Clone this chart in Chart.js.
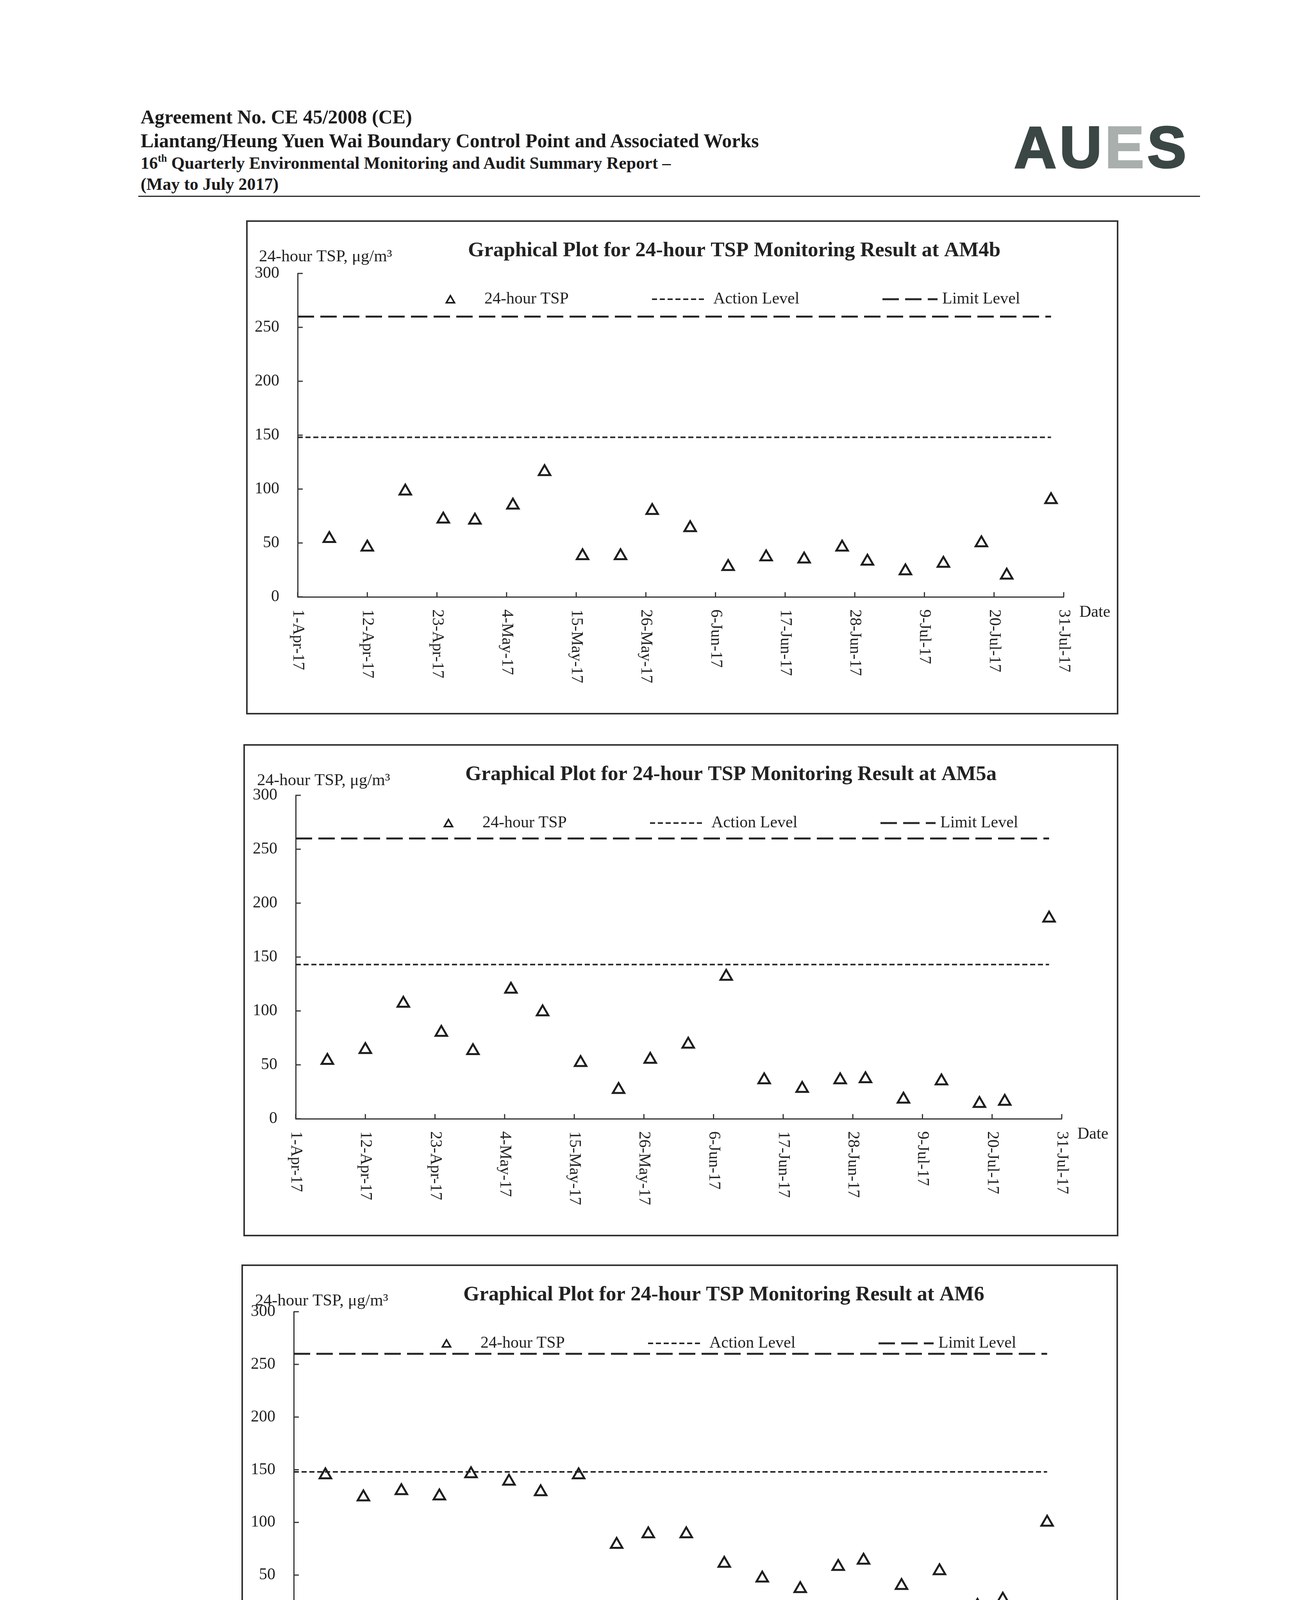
<!DOCTYPE html>
<html>
<head>
<meta charset="utf-8">
<script src="https://cdn.jsdelivr.net/npm/chart.js@4.4.0/dist/chart.umd.min.js"></script>
<style>
body { margin: 0; width: 3310px; height: 4680px; background: #fff; position: relative; overflow: hidden;
       font-family: "Liberation Serif", "Times New Roman", serif; color: #1c1c1c; }
.hd { position: absolute; left: 360px; font-weight: bold; white-space: nowrap; line-height: 1; }
.hd sup { font-size: 0.6em; position: relative; top: -0.15em; vertical-align: top; }
.logo { position: absolute; left: 2596px; top: 302px; font-family: "Liberation Sans", Arial, sans-serif;
        font-weight: bold; font-size: 150px; line-height: 1; letter-spacing: 8px; color: #3b4745;
        -webkit-text-stroke: 4px #3b4745; }
.logo span { color: #a8afad; -webkit-text-stroke: 4px #a8afad; }
.rule { position: absolute; left: 354px; width: 2718px; height: 3px; background: #2a2a2a; }
.foot { position: absolute; left: 430px; top: 4511px; font-size: 38px; line-height: 1; white-space: nowrap; }
.box { position: absolute; border: 4px solid #333; box-sizing: border-box; }
canvas.plot { position: absolute; }
</style>
</head>
<body>
<div class="hd" style="top:274px; font-size:50px;">Agreement No. CE 45/2008 (CE)</div>
<div class="hd" style="top:335px; font-size:50px;">Liantang/Heung Yuen Wai Boundary Control Point and Associated Works</div>
<div class="hd" style="top:396px; font-size:44px;">16<sup>th</sup> Quarterly Environmental Monitoring and Audit Summary Report –</div>
<div class="hd" style="top:450px; font-size:44px;">(May to July 2017)</div>
<div class="logo">AU<span>E</span>S</div>
<div class="rule" style="top:501px;"></div>

<div class="box" id="box1"></div>
<canvas class="plot" id="chartAM4b"></canvas>
<div class="box" id="box2"></div>
<canvas class="plot" id="chartAM5a"></canvas>
<div class="box" id="box3"></div>
<canvas class="plot" id="chartAM6"></canvas>

<div class="rule" style="top:4484px;"></div>
<div class="foot">Z:\Jobs\2013\TCS00694\600\EM&amp;A Report\Quarterly EM&amp;A Report\16th Quarter\R1315v2.docx</div>

<script>
// tick labels on the date axis (every 11 days from 1-Apr-17)
var dateTickLabels = ['1-Apr-17', '12-Apr-17', '23-Apr-17', '4-May-17', '15-May-17', '26-May-17',
    '6-Jun-17', '17-Jun-17', '28-Jun-17', '9-Jul-17', '20-Jul-17', '31-Jul-17'];
var axisStart = '2017-04-01';
var axisEnd = '2017-07-31';

// monitoring dates (same for all three stations)
var sampleDates = ['2017-04-06', '2017-04-12', '2017-04-18', '2017-04-24', '2017-04-29', '2017-05-05',
    '2017-05-10', '2017-05-16', '2017-05-22', '2017-05-27', '2017-06-02', '2017-06-08', '2017-06-14',
    '2017-06-20', '2017-06-26', '2017-06-30', '2017-07-06', '2017-07-12', '2017-07-18', '2017-07-22',
    '2017-07-29'];

// 24-hour TSP, ug/m3
var tspAM4b = [54, 46, 98, 72, 71, 85, 116, 38, 38, 80, 64, 28, 37, 35, 46, 33, 24, 31, 50, 20, 90];
var tspAM5a = [54, 64, 107, 80, 63, 120, 99, 52, 27, 55, 69, 132, 36, 28, 36, 37, 18, 35, 14, 16, 186];
var tspAM6 = [145, 124, 130, 125, 146, 139, 129, 145, 79, 89, 89, 61, 47, 37, 58, 64, 40, 54, 21, 27, 100];

var actionLevels = { AM4b: 148, AM5a: 143, AM6: 148 };
var limitLevels = { AM4b: 260, AM5a: 260, AM6: 260 };

var legendLabels = ['24-hour TSP', 'Action Level', 'Limit Level'];

var INK = '#222';
var SERIF = '"Liberation Serif", "Times New Roman", serif';

function dayOf(s) {
    return (Date.parse(s) - Date.parse(axisStart)) / 86400000;
}

// inside tick marks, rotated date labels, title, captions and legend
var decorPlugin = {
    id: 'decor',
    afterDraw: function (chart, args, opts) {
        var ctx = chart.ctx;
        var xs = chart.scales.x;
        var ys = chart.scales.y;
        var area = chart.chartArea;
        ctx.save();

        ctx.strokeStyle = '#333';
        ctx.lineWidth = 3;
        ys.ticks.forEach(function (t) {
            var py = ys.getPixelForValue(t.value);
            ctx.beginPath();
            ctx.moveTo(area.left, py);
            ctx.lineTo(area.left + 13, py);
            ctx.stroke();
        });
        xs.ticks.forEach(function (t) {
            var px = xs.getPixelForValue(t.value);
            ctx.beginPath();
            ctx.moveTo(px, area.bottom);
            ctx.lineTo(px, area.bottom - 12);
            ctx.stroke();
        });

        ctx.fillStyle = INK;
        ctx.font = '42px ' + SERIF;
        ctx.textAlign = 'left';
        ctx.textBaseline = 'middle';
        xs.ticks.forEach(function (t) {
            var px = xs.getPixelForValue(t.value);
            ctx.save();
            ctx.translate(px, area.bottom + 32);
            ctx.rotate(Math.PI / 2);
            ctx.fillText(t.label, 0, 0);
            ctx.restore();
        });
        ctx.fillText('Date', area.right + 40, area.bottom + 40);

        // y caption and title sit at a fixed place in the frame
        ctx.font = '43px ' + SERIF;
        ctx.fillText('24-hour TSP, \u03bcg/m\u00b3', area.left - 99, 94);
        ctx.font = 'bold 53px ' + SERIF;
        ctx.fillText(opts.title, 568, 78);

        // legend
        var ly = 202;
        var pts = chart.data.datasets[0];
        ctx.save();
        ctx.strokeStyle = pts.borderColor;
        ctx.lineWidth = 4;
        ctx.fillStyle = 'rgba(0,0,0,0)';
        Chart.helpers.drawPoint(ctx, { pointStyle: 'triangle', radius: 12, borderWidth: 4, rotation: 0 },
            area.left + 391, ly + 3);
        ctx.restore();
        ctx.font = '42px ' + SERIF;
        ctx.fillStyle = INK;
        ctx.fillText(legendLabels[0], area.left + 478, ly);

        [[1, 907, 1041, 1064], [2, 1497, 1638, 1650]].forEach(function (it) {
            var ds = chart.data.datasets[it[0]];
            ctx.save();
            ctx.strokeStyle = ds.borderColor;
            ctx.lineWidth = ds.borderWidth;
            ctx.setLineDash(ds.borderDash);
            ctx.beginPath();
            ctx.moveTo(area.left + it[1], ly);
            ctx.lineTo(area.left + it[2], ly);
            ctx.stroke();
            ctx.restore();
            ctx.fillText(legendLabels[it[0]], area.left + it[3], ly);
        });

        ctx.restore();
    }
};

function makeChart(canvasId, boxId, station, tsp, frame, plot) {
    var box = document.getElementById(boxId);
    box.style.left = frame.x + 'px';
    box.style.top = frame.y + 'px';
    box.style.width = frame.w + 'px';
    box.style.height = frame.h + 'px';

    var cv = document.getElementById(canvasId);
    cv.style.left = frame.x + 'px';
    cv.style.top = frame.y + 'px';
    cv.width = frame.w;
    cv.height = frame.h;

    var points = sampleDates.map(function (d, i) {
        return { x: dayOf(d), y: tsp[i] };
    });
    var lineX = [0, dayOf(sampleDates[sampleDates.length - 1])];
    var action = lineX.map(function (x) { return { x: x, y: actionLevels[station] }; });
    var limit = lineX.map(function (x) { return { x: x, y: limitLevels[station] }; });

    return new Chart(cv, {
        type: 'line',
        data: {
            datasets: [{
                label: legendLabels[0],
                data: points,
                showLine: false,
                pointStyle: 'triangle',
                pointRadius: 17,
                pointBorderWidth: 5,
                borderColor: '#1e1e1e',
                pointBorderColor: '#1e1e1e',
                pointBackgroundColor: 'rgba(0,0,0,0)'
            }, {
                label: legendLabels[1],
                data: action,
                borderColor: '#262626',
                borderWidth: 4,
                borderDash: [13, 7],
                pointRadius: 0
            }, {
                label: legendLabels[2],
                data: limit,
                borderColor: '#262626',
                borderWidth: 5,
                borderDash: [42, 16],
                pointRadius: 0
            }]
        },
        options: {
            responsive: false,
            animation: false,
            devicePixelRatio: 1,
            layout: {
                autoPadding: false,
                padding: { top: plot.top - frame.y, right: frame.x + frame.w - plot.right, left: 0, bottom: 0 }
            },
            scales: {
                x: {
                    type: 'linear',
                    min: 0,
                    max: dayOf(axisEnd),
                    ticks: {
                        display: false,
                        autoSkip: false,
                        stepSize: 11,
                        callback: function (v) { return dateTickLabels[Math.round(v / 11)]; }
                    },
                    grid: { drawOnChartArea: false, drawTicks: false },
                    border: { display: true, color: '#333', width: 3 },
                    afterFit: function (s) { s.height = frame.y + frame.h - plot.bottom; }
                },
                y: {
                    min: 0,
                    max: 300,
                    ticks: {
                        stepSize: 50,
                        padding: 47,
                        color: INK,
                        font: { family: SERIF, size: 42 }
                    },
                    grid: { drawOnChartArea: false, drawTicks: false },
                    border: { display: true, color: '#333', width: 3 },
                    afterFit: function (s) { s.width = plot.left - frame.x; }
                }
            },
            plugins: {
                legend: { display: false },
                tooltip: { enabled: false },
                decor: { title: 'Graphical Plot for 24-hour TSP Monitoring Result at ' + station }
            }
        },
        plugins: [decorPlugin]
    });
}

var chartAM4b = makeChart('chartAM4b', 'box1', 'AM4b', tspAM4b,
    { x: 630, y: 564, w: 2233, h: 1265 }, { left: 762, right: 2723, top: 700, bottom: 1528 });
var chartAM5a = makeChart('chartAM5a', 'box2', 'AM5a', tspAM5a,
    { x: 623, y: 1905, w: 2240, h: 1260 }, { left: 757, right: 2718, top: 2036, bottom: 2864 });
var chartAM6 = makeChart('chartAM6', 'box3', 'AM6', tspAM6,
    { x: 618, y: 3237, w: 2244, h: 1228 }, { left: 752, right: 2713, top: 3358, bottom: 4167 });
</script>
</body>
</html>
